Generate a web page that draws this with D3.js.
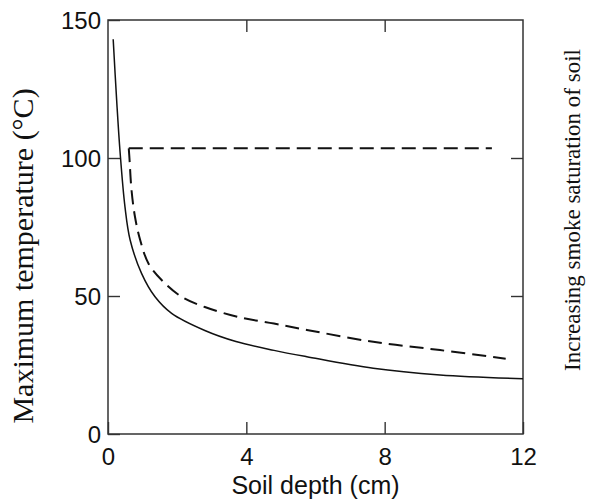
<!DOCTYPE html>
<html lang="en">
<head>
    <meta charset="UTF-8">
    <title>Soil depth vs maximum temperature</title>
    <script src="https://d3js.org/d3.v7.min.js"></script>
    <style>
        body { margin: 0; background: #fff; }
        .tick text { font-family: 'Liberation Sans', Arial, sans-serif; font-size: 24px; fill: #111; }
        .tick line { stroke: #333; stroke-width: 1.4; }
    </style>
</head>
<body>
    <div id="chart"></div>

    <script>
        // values
        const depthSolid = [0.15, 0.25, 0.35, 0.49, 0.64, 0.97, 1.36, 1.84, 2.8, 3.7, 4.8, 5.75, 7.67, 9.6, 12];
        const tempSolid  = [143, 121, 102, 82.4, 70.3, 58.2, 49.7, 43.7, 37.5, 33.5, 30.3, 28, 23.8, 21.4, 20];

        const depthPlateau = [0.6, 11.1];
        const tempPlateau  = [103.5, 103.5];

        const depthDashed = [0.6, 0.62, 0.68, 0.78, 0.93, 1.17, 1.55, 2.13, 2.8, 3.8, 4.8, 5.75, 7.67, 9.6, 11.5];
        const tempDashed  = [103.5, 100, 88.4, 78.7, 70.3, 61.8, 55.8, 49.7, 46, 42.3, 40, 37.7, 33.4, 30.4, 27.3];

        const xTicks = [0, 4, 8, 12];
        const yTicks = [0, 50, 100, 150];
        const innerXTicks = [4, 8];
        const innerYTicks = [50, 100];

        const width = 598, height = 500;
        const margin = { top: 20, right: 75, bottom: 66, left: 108 };
        const w = width - margin.left - margin.right;
        const h = height - margin.top - margin.bottom;

        const svg = d3.select('#chart').append('svg')
            .attr('width', width)
            .attr('height', height);

        const g = svg.append('g')
            .attr('transform', `translate(${margin.left}, ${margin.top})`);

        const x = d3.scaleLinear().domain([0, 12]).range([0, w]);
        const y = d3.scaleLinear().domain([0, 150]).range([h, 0]);

        // axes, ticks pointing inward
        g.append('g')
            .attr('transform', `translate(0, ${h})`)
            .call(d3.axisBottom(x).tickValues(xTicks).tickSizeInner(-12).tickSizeOuter(0).tickPadding(14))
            .call(a => a.select('.domain').remove());

        g.append('g')
            .call(d3.axisLeft(y).tickValues(yTicks).tickSizeInner(-12).tickSizeOuter(0).tickPadding(7))
            .call(a => a.select('.domain').remove())
            .selectAll('text').attr('dy', '0.36em');

        g.append('g')
            .call(d3.axisTop(x).tickValues(innerXTicks).tickSizeInner(-12).tickSizeOuter(0).tickFormat(''))
            .call(a => a.select('.domain').remove());

        g.append('g')
            .attr('transform', `translate(${w}, 0)`)
            .call(d3.axisRight(y).tickValues(innerYTicks).tickSizeInner(-12).tickSizeOuter(0).tickFormat(''))
            .call(a => a.select('.domain').remove());

        // frame
        g.append('rect')
            .attr('width', w)
            .attr('height', h)
            .attr('fill', 'none')
            .attr('stroke', '#333')
            .attr('stroke-width', 1.5);

        const curve = d3.line()
            .x(d => x(d[0]))
            .y(d => y(d[1]))
            .curve(d3.curveCatmullRom.alpha(0.5));

        const straight = d3.line()
            .x(d => x(d[0]))
            .y(d => y(d[1]));

        g.append('path')
            .datum(depthSolid.map((d, i) => [d, tempSolid[i]]))
            .attr('d', curve)
            .attr('fill', 'none')
            .attr('stroke', '#111')
            .attr('stroke-width', 1.5);

        g.append('path')
            .datum(depthPlateau.map((d, i) => [d, tempPlateau[i]]))
            .attr('d', straight)
            .attr('fill', 'none')
            .attr('stroke', '#111')
            .attr('stroke-width', 2)
            .attr('stroke-dasharray', '14,7');

        g.append('path')
            .datum(depthDashed.map((d, i) => [d, tempDashed[i]]))
            .attr('d', curve)
            .attr('fill', 'none')
            .attr('stroke', '#111')
            .attr('stroke-width', 2)
            .attr('stroke-dasharray', '14,7');

        // axis titles
        svg.append('text')
            .attr('x', margin.left + w / 2)
            .attr('y', 494)
            .attr('text-anchor', 'middle')
            .style('font-family', "'Liberation Sans', Arial, sans-serif")
            .style('font-size', '25px')
            .style('fill', '#111')
            .text('Soil depth (cm)');

        svg.append('text')
            .attr('transform', 'translate(33, 256) rotate(-90)')
            .attr('text-anchor', 'middle')
            .style('font-family', "'Liberation Serif', 'Times New Roman', serif")
            .style('font-size', '30px')
            .style('fill', '#111')
            .text('Maximum temperature (°C)');

        svg.append('text')
            .attr('transform', 'translate(580, 210) rotate(-90)')
            .attr('text-anchor', 'middle')
            .style('font-family', "'Liberation Serif', 'Times New Roman', serif")
            .style('font-size', '23px')
            .style('fill', '#111')
            .text('Increasing smoke saturation of soil');
    </script>
</body>
</html>
